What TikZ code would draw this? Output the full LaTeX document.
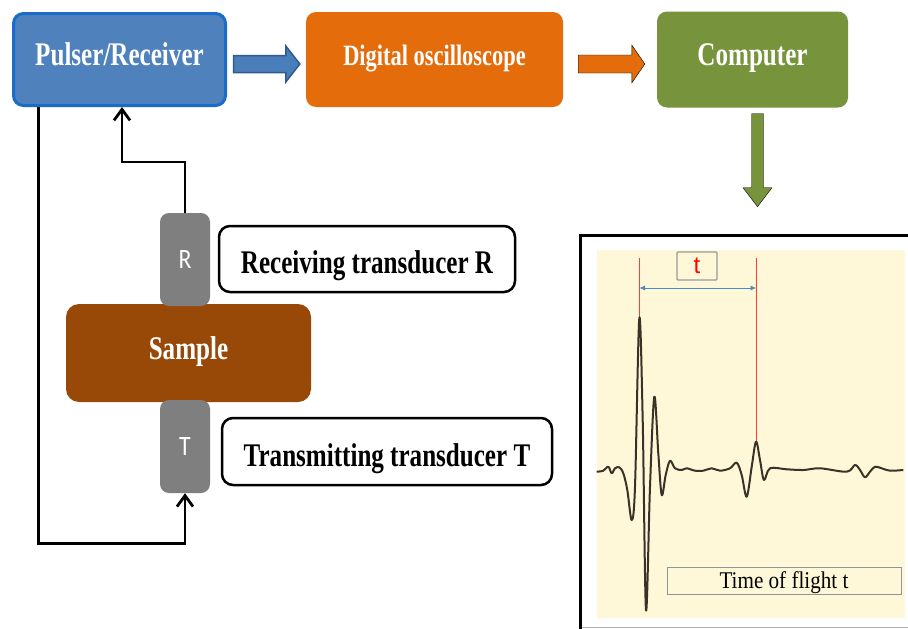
\documentclass[tikz,border=0pt]{standalone}
\usepackage{fontspec}
\setmainfont{Liberation Serif}
\newfontfamily\labelfont[FakeStretch=0.76,BoldFeatures={FakeStretch=0.76}]{Liberation Serif}
\newfontfamily\capfont[FakeStretch=0.88]{Liberation Serif}
\newfontfamily\tagfont[FakeStretch=0.85]{Carlito}
\newfontfamily\markfont{Liberation Sans}
\usetikzlibrary{arrows.meta,calc}

\definecolor{pfill}{HTML}{4F81BD}
\definecolor{pline}{HTML}{1A6CC8}
\definecolor{afill}{HTML}{4A7EBB}
\definecolor{aline}{HTML}{2F5A8C}
\definecolor{ofill}{HTML}{E46C0A}
\definecolor{gfill}{HTML}{77933C}
\definecolor{bfill}{HTML}{984807}
\definecolor{tgray}{HTML}{7F7F7F}
\definecolor{cream}{HTML}{FFF8D8}
\definecolor{dimred}{HTML}{FF3B3B}
\definecolor{dimblue}{HTML}{4A8CC0}
\definecolor{wavec}{HTML}{3A3128}
\definecolor{boxgray}{HTML}{8E949C}

% horizontal block arrow: from, to, shaft half width, head half width, head length, style
\newcommand\hblock[6]{%
  \draw[#6] let \p1=(#1), \p2=(#2) in
    (\x1,\y1+#3) -- (\x2-#5,\y1+#3) -- (\x2-#5,\y1+#4) -- (\x2,\y1)
    -- (\x2-#5,\y1-#4) -- (\x2-#5,\y1-#3) -- (\x1,\y1-#3) -- cycle;}
% vertical (downward) block arrow: from, to, shaft half width, head half width, head length, style
\newcommand\vblock[6]{%
  \draw[#6] let \p1=(#1), \p2=(#2) in
    (\x1-#3,\y1) -- (\x1-#3,\y2+#5) -- (\x1-#4,\y2+#5) -- (\x1,\y2)
    -- (\x1+#4,\y2+#5) -- (\x1+#3,\y2+#5) -- (\x1+#3,\y1) -- cycle;}

\begin{document}
\begin{tikzpicture}[x=1pt,y=-1pt,
  box/.style={rectangle, rounded corners=10pt, inner sep=0pt, text=white,
    font=\labelfont\bfseries\fontsize{33}{37}\selectfont,
    text height=21pt, text depth=10pt},
  tag/.style={rectangle, rounded corners=9pt, fill=tgray, text=white,
    minimum width=50pt, minimum height=93pt, inner sep=0pt,
    font=\tagfont\fontsize{28}{30}\selectfont, text height=17pt, text depth=0pt},
  note/.style={rectangle, rounded corners=11pt, draw=black, line width=2.5pt,
    fill=white, inner sep=0pt, font=\labelfont\bfseries\fontsize{33}{37}\selectfont,
    text height=29pt, text depth=0pt},
  wire/.style={line width=2.8pt, black},
  wiretip/.style={-{Straight Barb[length=11pt,width=16pt]}},
  wave/.style={wavec, line width=2pt, line join=round}
]
\useasboundingbox (0,0) rectangle (908,629);
\fill[white] (0,0) rectangle (908,629);

% --- top row of instruments
\node[box, fill=pfill, draw=pline, line width=3pt, minimum width=212pt, minimum height=92pt]
  (pr) at (119.5,59.5) {Pulser/Receiver};
\node[box, fill=ofill, minimum width=257pt, minimum height=95pt,
  font=\labelfont\bfseries\fontsize{29.5}{33}\selectfont]
  (dso) at (434.5,59.5) {Digital oscilloscope};
\node[box, fill=gfill, minimum width=191pt, minimum height=96pt]
  (comp) at (752.5,59.5) {Computer};

% --- block arrows between instruments
\coordinate (a1) at ([xshift=6.5pt,yshift=-4.5pt]pr.east);
\coordinate (a2) at ([xshift=-6pt,yshift=-4.5pt]dso.west);
\hblock{a1}{a2}{8.5pt}{18pt}{14pt}{fill=afill, draw=aline, line width=1.5pt}
\coordinate (b1) at ([xshift=15pt,yshift=-4.5pt]dso.east);
\coordinate (b2) at ([xshift=-12pt,yshift=-4.5pt]comp.west);
\hblock{b1}{b2}{9pt}{19pt}{13pt}{fill=ofill}
\coordinate (c1) at ([xshift=5pt,yshift=-6pt]comp.south);
\coordinate (c2) at ([xshift=5pt,yshift=-99pt]comp.south);
\vblock{c1}{c2}{6pt}{14.5pt}{19pt}{fill=gfill}

% --- sample with its two transducers
\node[box, fill=bfill, minimum width=245pt, minimum height=98pt, rounded corners=13pt,
  text height=27pt, text depth=14pt] (sample) at (188.5,353) {Sample};
\node[tag] (R) at (185,259.5) {R};
\node[tag] (T) at (185,446.5) {T};
\node[note, minimum width=296pt, minimum height=66pt] (rlab) at (367,259) {Receiving transducer R};
\node[note, minimum width=330pt, minimum height=67pt] (tlab) at (387,451.5) {Transmitting transducer T};

% --- signal wiring
\coordinate (pout) at ([xshift=26.5pt]pr.south west);
\coordinate (rin) at ([xshift=2.5pt]pr.south);
\coordinate (jog) at (0,162);
\coordinate (low) at (0,543.5);
\draw[wire, wiretip] (pout) -- (pout |- low) -| (T.south);
\draw[wire, wiretip] (R.north) |- (rin |- jog) -- (rin);

% --- oscilloscope trace panel
\fill[cream] (597,250) rectangle (905,618);
\draw[gray!60, line width=1pt] (582,627.5) -- (912,627.5);
\draw[black, line width=3.5pt] (580.5,632) -- (580.5,235.5) -- (912,235.5);

\draw[dimred, line width=1pt] (639,258) -- (639,318);
\draw[dimred, line width=1pt] (756.5,258) -- (756.5,441);
\draw[dimblue, line width=1pt, {Latex[length=6pt,width=5pt]}-{Latex[length=6pt,width=5pt]}]
  (639,288) -- (756.5,288);
\node[draw=gray!80, line width=1.2pt, rounded corners=1pt, fill=cream,
  minimum width=40pt, minimum height=28pt, inner sep=0pt, text=red,
  font=\markfont\fontsize{24}{26}\selectfont] (tmark) at (697,266) {t};
\node[draw=boxgray, line width=1pt, fill=cream, minimum width=234pt,
  minimum height=27pt, inner sep=0pt, font=\capfont\fontsize{24}{26}\selectfont,
  text height=15pt, text depth=0pt] (tof) at (784,580.5) {Time of flight t};

\draw[wave] plot[smooth, tension=0.55] coordinates {
  (596.7,471.7) (603.3,470.7) (608.3,466.7) (611.7,473.3) (615,468.3)
  (619.3,467.3) (623.3,473.3) (627.3,490) (631.7,520) (635,486.7)
  (639.3,318.3) (642.7,420) (646,610) (650,486.7) (654.3,396.7)
  (658.3,453.3) (661.7,495) (665.7,475) (670,460.7) (675,468.3)
  (681.7,470) (686.7,468.3) (695,470.7) (703.3,470.7) (711.7,468.3)
  (720,470.7) (730,468.3) (736.7,462.7) (741.7,475) (746.7,496.7)
  (751.7,466.7) (756,441.7) (760,460) (764,480) (770,468.3)
  (786.7,469.3) (803.3,470) (820,468.3) (846.7,471.7) (855,465)
  (860,470) (865,477.3) (870,471.7) (875,466.7) (881.7,468.3)
  (890,470.7) (903.3,470)};
\end{tikzpicture}
\end{document}
